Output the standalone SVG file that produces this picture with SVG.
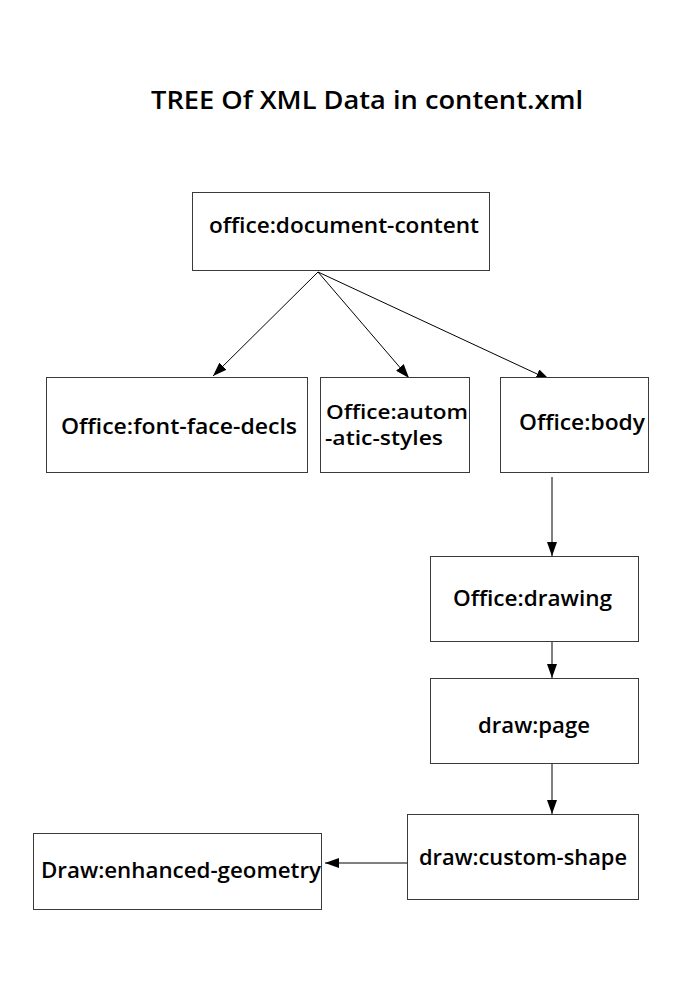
<svg xmlns="http://www.w3.org/2000/svg" width="694" height="982" viewBox="0 0 694 982">
<style>
.box{fill:#fff;stroke:#3a3a3a;stroke-width:1}
.t{font-family:"Open Sans","DejaVu Sans",sans-serif;font-size:22px;font-weight:600;fill:#000}
.t2{font-family:"Open Sans","DejaVu Sans",sans-serif;font-size:20px;font-weight:600;fill:#000}
.title{font-family:"Open Sans","DejaVu Sans",sans-serif;font-size:26px;font-weight:600;fill:#000}
.c{stroke:#000;stroke-width:1;fill:none;marker-end:url(#ah)}
</style>
<defs>
<marker id="ah" viewBox="0 0 14 10" refX="14" refY="5" markerWidth="14" markerHeight="10" markerUnits="userSpaceOnUse" orient="auto">
<path d="M0,0 L14,5 L0,10 Z" fill="#000"/>
</marker>
</defs>
<rect width="694" height="982" fill="#fff"/>
<text class="title" x="151" y="109" textLength="432" lengthAdjust="spacingAndGlyphs">TREE Of XML Data in content.xml</text>
<g id="connectors">
<line class="c" x1="318" y1="272" x2="213" y2="376"/>
<line class="c" x1="318" y1="272" x2="409" y2="378"/>
<line class="c" x1="318" y1="272" x2="550" y2="380"/>
<line class="c" x1="552" y1="477" x2="552" y2="556"/>
<line class="c" x1="552" y1="641" x2="552" y2="678"/>
<line class="c" x1="552" y1="764" x2="552" y2="814"/>
<line class="c" x1="407" y1="863" x2="325" y2="863"/>
</g>
<g id="node-document-content">
<rect class="box" x="192.5" y="192.5" width="297" height="78"/>
<text class="t" x="209" y="233" textLength="270" lengthAdjust="spacingAndGlyphs">office:document-content</text>
</g>
<g id="node-font-face-decls">
<rect class="box" x="46.5" y="377.5" width="261" height="95"/>
<text class="t" x="61" y="434" textLength="236" lengthAdjust="spacingAndGlyphs">Office:font-face-decls</text>
</g>
<g id="node-automatic-styles">
<rect class="box" x="320.5" y="377.5" width="149" height="95"/>
<text class="t2" x="326" y="419" textLength="142" lengthAdjust="spacingAndGlyphs">Office:autom</text>
<text class="t2" x="325" y="445" textLength="118" lengthAdjust="spacingAndGlyphs">-atic-styles</text>
</g>
<g id="node-body">
<rect class="box" x="500.5" y="377.5" width="148" height="95"/>
<text class="t" x="519" y="430" textLength="126" lengthAdjust="spacingAndGlyphs">Office:body</text>
</g>
<g id="node-drawing">
<rect class="box" x="430.5" y="556.5" width="208" height="85"/>
<text class="t" x="453" y="606" textLength="159" lengthAdjust="spacingAndGlyphs">Office:drawing</text>
</g>
<g id="node-page">
<rect class="box" x="430.5" y="678.5" width="208" height="85"/>
<text class="t" x="478" y="733" textLength="112" lengthAdjust="spacingAndGlyphs">draw:page</text>
</g>
<g id="node-custom-shape">
<rect class="box" x="407.5" y="814.5" width="231" height="85"/>
<text class="t" x="419" y="865" textLength="208" lengthAdjust="spacingAndGlyphs">draw:custom-shape</text>
</g>
<g id="node-enhanced-geometry">
<rect class="box" x="33.5" y="833.5" width="288" height="76"/>
<text class="t" x="41" y="878" textLength="280" lengthAdjust="spacingAndGlyphs">Draw:enhanced-geometry</text>
</g>
</svg>
